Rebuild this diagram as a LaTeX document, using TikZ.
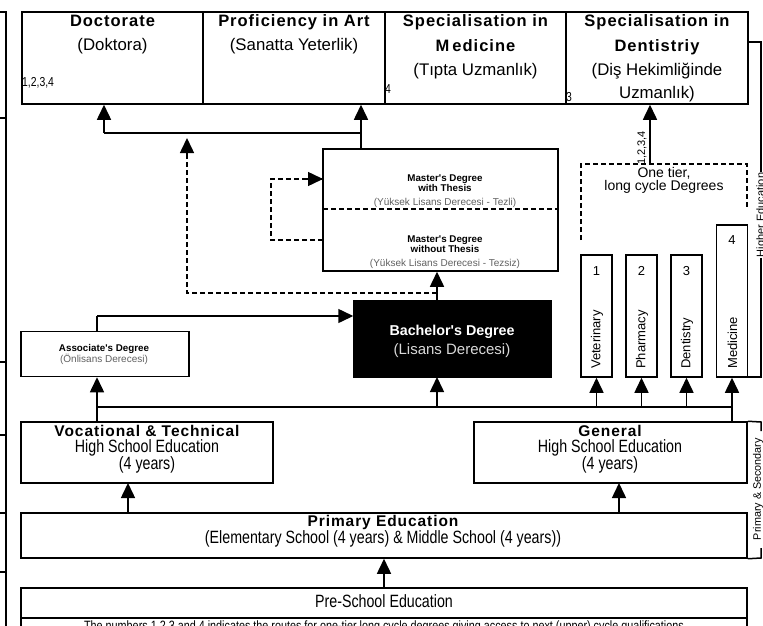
\documentclass[tikz,border=0pt]{standalone}
\usepackage{fontspec}
\setmainfont{Liberation Sans}
\newfontfamily\lsans{Liberation Sans}
\newfontfamily\lsansls[LetterSpace=6]{Liberation Sans}
\newfontfamily\lnarrow[FakeStretch=0.8]{Liberation Sans}
\usetikzlibrary{arrows.meta,calc}
\tikzset{
  box/.style={draw, line width=1.5pt, inner sep=0pt},
  arr/.style={line width=1.5pt, -{Triangle[length=15pt,width=14pt]}},
  ln/.style={line width=1.5pt},
  dsh/.style={line width=1.5pt, dash pattern=on 5pt off 3pt},
  ttl/.style={anchor=base, inner sep=0pt, font=\lsansls\bfseries\fontsize{16.5}{20}\selectfont},
  reg/.style={anchor=base, inner sep=0pt, font=\lsans\fontsize{16.8}{20}\selectfont},
  sml/.style={anchor=base west, inner sep=0pt, font=\lnarrow\fontsize{13}{15}\selectfont},
  bt/.style={anchor=base, inner sep=0pt, font=\lsansls\bfseries\fontsize{15.5}{18}\selectfont},
  nt/.style={anchor=base, inner sep=0pt, font=\lnarrow\fontsize{17.8}{20}\selectfont},
  mb/.style={anchor=base, inner sep=0pt, font=\lsans\bfseries\fontsize{9.8}{11}\selectfont},
  mg/.style={anchor=base, inner sep=0pt, text=black!62, font=\lsans\fontsize{10}{11}\selectfont},
  vt/.style={anchor=west, rotate=90, inner sep=0pt, font=\lsans\fontsize{13}{15}\selectfont},
  num/.style={inner sep=0pt, font=\lsans\fontsize{13}{15}\selectfont},
}
\begin{document}
\begin{tikzpicture}[x=1pt,y=-1pt]
\useasboundingbox (0,0) rectangle (763,626);
\fill[white] (0,0) rectangle (763,626);

% left bracket
\draw[ln] (0,12) -- (6,12) -- (6,626);
\foreach \yy in {118,362,435,513,572} \draw[ln] (0,\yy) -- (6,\yy);

% top boxes
\node[box, minimum width=181pt, minimum height=92pt] (doc) at (112.5,58) {};
\node[box, minimum width=182pt, minimum height=92pt] (prof) at (294,58) {};
\node[box, minimum width=181pt, minimum height=92pt] (med) at (475.5,58) {};
\node[box, minimum width=182pt, minimum height=92pt] (dent) at (657,58) {};

\node[ttl] (docA) at (112.5,27) {Doctorate};
\node[reg] (docB) at (112.5,51) {(Doktora)};
\node[sml] (docC) at (22,86) {1,2,3,4};

\node[ttl] (profA) at (294,27) {Proficiency in Art};
\node[reg] (profB) at (294,51) {(Sanatta Yeterlik)};

\node[ttl] (medA) at (475.5,27) {Specialisation in};
\node[ttl] (medB) at (475.5,52) {M\kern3pt edicine};
\node[reg] (medC) at (475.5,76) {(Tıpta Uzmanlık)};
\node[sml] (medD) at (385,93) {4};

\node[ttl] (dentA) at (657,27) {Specialisation in};
\node[ttl] (dentB) at (657,52) {Dentistriy};
\node[reg] (dentC) at (657,76) {(Diş Hekimliğinde};
\node[reg] (dentD) at (657,99) {Uzmanlık)};
\node[sml] (dentE) at (566,102) {3};

% higher education bracket
\coordinate (he1) at (761,42);
\coordinate (he2) at (761,172);
\coordinate (he3) at (761,258);
\coordinate (he4) at (761,377);
\draw[ln] (dent.east |- he1) -- (he1) -- (he2);
\draw[ln] (he3) -- (he4) -- (748,377);
\node[anchor=center, rotate=90, inner sep=0pt, font=\lsans\fontsize{11}{13}\selectfont] (helab) at (761.5,215) {Higher Education};

% master box
\node[box, minimum width=235pt, minimum height=122pt] (mas) at (440.5,210) {};
\coordinate (mdl) at (323,209);
\coordinate (mdr) at (558,209);
\draw[dsh] (mdl) -- (mdr);
\node[mb] (m1) at (445,181) {Master's Degree};
\node[mb] (m2) at (445,191) {with Thesis};
\node[mg] (m3) at (445,205) {(Yüksek Lisans Derecesi - Tezli)};
\node[mb] (m4) at (445,242) {Master's Degree};
\node[mb] (m5) at (445,252) {without Thesis};
\node[mg] (m6) at (445,266) {(Yüksek Lisans Derecesi - Tezsiz)};

% loop
\coordinate (lp1) at (323,240);
\coordinate (lp2) at (271,240);
\coordinate (lp3) at (271,179);
\coordinate (lp4) at (323,179);
\draw[dsh] (lp1) -- (lp2) -- (lp3) -- (lp4);
\draw[arr] ($(lp4)+(-16,0)$) -- (lp4);

% doctorate / proficiency connectors
\coordinate (jd) at (104,133);
\coordinate (jp) at (361,133);
\coordinate (jm) at (361,149);
\draw[ln] (jd) -- (jp) -- (jm);
\draw[arr] (jd) -- (jd |- doc.south);
\draw[arr] (jp) -- (jp |- prof.south);

% bachelor
\node[box, fill=black, minimum width=197pt, minimum height=76pt] (bach) at (452.5,339) {};
\node[anchor=base, inner sep=0pt, text=white, font=\lsans\bfseries\fontsize{14.3}{16}\selectfont] (b1) at (452,335) {Bachelor's Degree};
\node[anchor=base, inner sep=0pt, text=black!15, font=\lsans\fontsize{15}{17}\selectfont] (b2) at (452,354) {(Lisans Derecesi)};

\coordinate (bt) at (437,301);
\coordinate (dsj) at (437,293);
\coordinate (dsl) at (187,293);
\coordinate (dst) at (187,138);
\draw[arr] (bt) -- (bt |- mas.south);
\draw[dsh] (dsj) -- (dsl) -- ($(dst)+(0,14)$);
\draw[arr] ($(dst)+(0,15)$) -- (dst);

% associate
\node[box, minimum width=168pt, minimum height=45pt] (asc) at (105,354) {};
\node[mb] (a1) at (104,351) {Associate's Degree};
\node[mg] (a2) at (104,362) {(Önlisans Derecesi)};
\coordinate (aj1) at (97,316);
\draw[ln] (asc.north -| aj1) -- (aj1);
\draw[arr] (aj1) -- (aj1 -| bach.west);

% main horizontal line
\coordinate (h1) at (97,407);
\coordinate (h2) at (732,407);
\draw[ln] (h1) -- (h2);
\draw[arr] (h1) -- (h1 |- asc.south);
\draw[arr] (437,407) -- (437,377);

% long cycle boxes
\node[box, minimum width=31pt, minimum height=122pt] (vet) at (596.5,316) {};
\node[box, minimum width=31pt, minimum height=122pt] (pha) at (641.5,316) {};
\node[box, minimum width=31pt, minimum height=122pt] (den) at (686.5,316) {};
\node[box, minimum width=31pt, minimum height=152pt] (mdc) at (732,301) {};
\node[num] (n1) at (596.5,271) {1};
\node[num] (n2) at (641.5,271) {2};
\node[num] (n3) at (686.5,271) {3};
\node[num] (n4) at (732,240) {4};
\node[vt] (v1) at (597,369) {Veterinary};
\node[vt] (v2) at (642,369) {Pharmacy};
\node[vt] (v3) at (687,369) {Dentistry};
\node[vt] (v4) at (732.5,369) {Medicine};
\draw[arr] (h2 -| vet) -- (vet.south);
\draw[arr] (h2 -| pha) -- (pha.south);
\draw[arr] (h2 -| den) -- (den.south);
\draw[arr] (h2) -- (mdc.south);

% one tier dashed
\coordinate (ot1) at (581,240);
\coordinate (ot2) at (581,164);
\coordinate (ot3) at (747,164);
\coordinate (ot4) at (747,209);
\draw[dsh] (ot1) -- (ot2) -- (ot3) -- (ot4);
\node[anchor=base, inner sep=0pt, font=\lsans\fontsize{14}{15}\selectfont] (ot5) at (664,177) {One tier,};
\node[anchor=base, inner sep=0pt, font=\lsans\fontsize{14}{15}\selectfont] (ot6) at (664,190) {long cycle Degrees};
\coordinate (oa) at (650,164);
\draw[arr] (oa) -- (oa |- dent.south);
\node[anchor=center, rotate=90, inner sep=0pt, font=\lsans\fontsize{11}{13}\selectfont] (ol) at (642,148) {1,2,3,4};

% high schools
\node[box, minimum width=252pt, minimum height=61pt] (voc) at (147,452.5) {};
\node[bt] (vo1) at (147,436) {Vocational \& Technical};
\node[nt] (vo2) at (147,452) {High School Education};
\node[nt] (vo3) at (147,469) {(4 years)};
\node[box, minimum width=273pt, minimum height=61pt] (gen) at (610.5,452.5) {};
\node[bt] (ge1) at (610,436) {General};
\node[nt] (ge2) at (610,452) {High School Education};
\node[nt] (ge3) at (610,469) {(4 years)};
\draw[ln] (h1) -- (h1 |- voc.north);
\draw[ln] (h2) -- (h2 |- gen.north);

% primary
\node[box, minimum width=726pt, minimum height=45pt] (pri) at (384,535.5) {};
\node[bt] (pr1) at (383,526) {Primary Education};
\node[nt] (pr2) at (383,543) {(Elementary School (4 years) \& Middle School (4 years))};
\coordinate (pv) at (128,483);
\coordinate (pg) at (619,483);
\draw[arr] (pri.north -| pv) -- (pv);
\draw[arr] (pri.north -| pg) -- (pg);

% primary & secondary bracket
\coordinate (ps1) at (761,422);
\coordinate (ps2) at (761,431);
\coordinate (ps3) at (761,548);
\coordinate (ps4) at (761,558);
\draw[ln] (gen.north east) -- (ps1) -- (ps2);
\draw[ln] (ps3) -- (ps4) -- (pri.south east);
\node[anchor=center, rotate=90, inner sep=0pt, font=\lsans\fontsize{10.8}{13}\selectfont] (pslab) at (758,489) {Primary \& Secondary};

% pre-school
\node[box, minimum width=726pt, minimum height=30pt] (pre) at (384,603) {};
\node[nt] (pe1) at (384,607) {Pre-School Education};
\draw[arr] (pre.north) -- (pri.south -| pre.north);
\node[box, minimum width=726pt, minimum height=30pt] (note) at (384,633) {};
\node[anchor=base, inner sep=0pt, font=\lnarrow\fontsize{13.5}{15}\selectfont] (nt1) at (384,630) {The numbers 1,2,3 and 4 indicates the routes for one-tier long cycle degrees giving access to next (upper) cycle qualifications};
\end{tikzpicture}
\end{document}
